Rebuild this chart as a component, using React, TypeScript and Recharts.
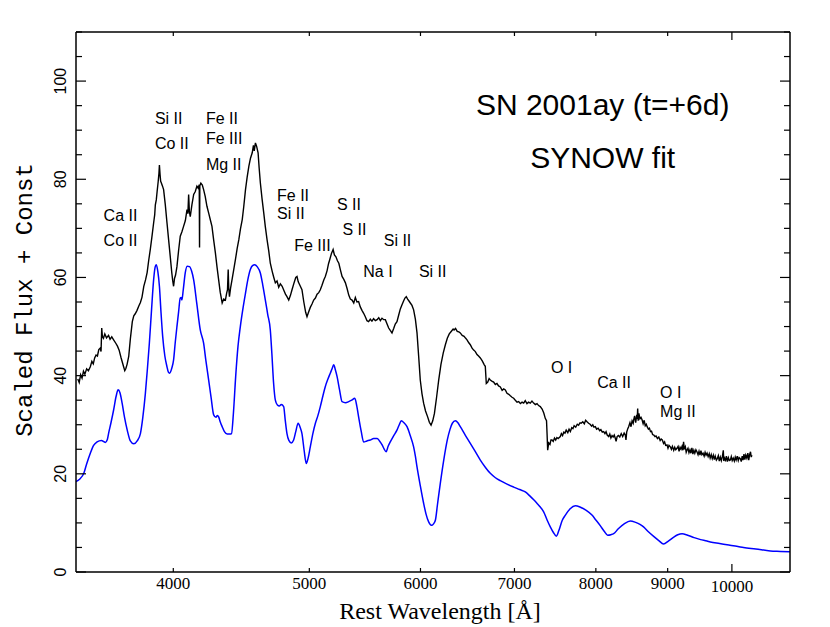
import React from "react";
import { LineChart, Line, XAxis, YAxis, ReferenceDot } from "recharts";

// wavelength ticks (log axis) and flux ticks
const xTicks = [4000, 5000, 6000, 7000, 8000, 9000, 10000];
const yTicks = [0, 5, 10, 15, 20, 25, 30, 35, 40, 45, 50, 55, 60, 65, 70, 75, 80, 85, 90, 95, 100, 105, 110];
const yTickLabels = [0, 20, 40, 60, 80, 100];

// observed spectrum [wavelength, scaled flux]
const observed: [number, number][] = [
  [3420, 39.3], [3428, 38.6], [3436, 40.2], [3444, 39.5], [3452, 40.9], [3460, 40.3], [3470, 41.4], [3480, 41.0],
  [3491, 41.8], [3500, 42.9], [3508, 42.4], [3516, 43.6], [3524, 44.2], [3532, 44.0], [3540, 45.3], [3548, 45.6],
  [3553, 44.9], [3557, 49.7], [3561, 47.9], [3567, 47.6], [3575, 48.5], [3585, 47.7], [3597, 48.2], [3606, 47.4],
  [3616, 47.9], [3627, 47.3], [3640, 46.6], [3650, 46.0], [3660, 45.2], [3672, 43.6], [3687, 41.8], [3694, 41.0],
  [3700, 41.4], [3708, 42.3], [3718, 43.9], [3728, 47.5], [3740, 51.0], [3749, 52.2], [3758, 52.6], [3769, 53.3],
  [3780, 54.2], [3790, 54.9], [3800, 56.0], [3811, 58.2], [3822, 59.5], [3832, 61.0], [3842, 63.5], [3852, 65.7],
  [3862, 68.2], [3873, 71.1], [3880, 72.8], [3884, 74.8], [3890, 75.8], [3895, 77.4], [3902, 79.5], [3907, 81.2],
  [3910, 82.9], [3914, 81.0], [3918, 79.6], [3922, 79.3], [3930, 78.6], [3937, 77.9], [3948, 74.8], [3959, 71.1],
  [3970, 67.5], [3980, 64.3], [3990, 61.0], [3996, 59.4], [4002, 58.2], [4008, 59.8], [4015, 60.5], [4024, 62.2],
  [4035, 65.5], [4046, 68.4], [4057, 69.3], [4068, 70.4], [4080, 71.6], [4091, 73.8], [4097, 73.0], [4102, 76.9],
  [4107, 73.4], [4113, 72.4], [4124, 74.8], [4136, 76.9], [4147, 77.5], [4158, 78.6], [4166, 78.2], [4174, 78.9],
  [4176, 66.1], [4178, 78.7], [4185, 79.2], [4195, 78.8], [4204, 77.9], [4215, 76.5], [4227, 74.5], [4240, 73.0],
  [4250, 71.8], [4262, 70.4], [4274, 67.6], [4286, 65.0], [4298, 62.0], [4309, 59.5], [4320, 57.0], [4334, 54.8],
  [4345, 55.6], [4357, 55.4], [4366, 56.8], [4372, 57.5], [4377, 61.6], [4381, 57.8], [4386, 56.1], [4395, 58.0],
  [4405, 59.6], [4417, 61.6], [4430, 63.8], [4442, 65.9], [4454, 67.7], [4466, 69.9], [4479, 71.8], [4490, 74.4],
  [4503, 77.9], [4515, 80.4], [4528, 82.7], [4540, 84.3], [4553, 85.4], [4562, 86.9], [4568, 85.8], [4577, 87.4],
  [4586, 86.7], [4597, 85.4], [4605, 82.3], [4614, 79.3], [4627, 76.0], [4640, 73.1], [4652, 70.3], [4665, 67.7],
  [4678, 65.4], [4690, 62.9], [4705, 61.2], [4717, 60.0], [4729, 58.9], [4742, 59.3], [4755, 58.0], [4768, 58.7],
  [4782, 58.2], [4795, 57.4], [4808, 56.6], [4820, 56.1], [4834, 55.4], [4847, 56.3], [4860, 57.5], [4875, 58.8],
  [4890, 60.0], [4900, 60.2], [4910, 59.1], [4925, 58.3], [4940, 57.5], [4955, 55.0], [4970, 52.9], [4981, 52.0],
  [4992, 52.8], [5008, 53.9], [5022, 54.6], [5036, 55.4], [5050, 55.8], [5064, 56.6], [5078, 56.9], [5091, 57.5],
  [5105, 58.4], [5120, 59.5], [5133, 60.2], [5148, 61.4], [5160, 62.8], [5170, 63.6], [5185, 64.9], [5199, 65.7],
  [5210, 64.6], [5223, 64.2], [5236, 63.4], [5248, 62.9], [5262, 61.5], [5276, 60.2], [5291, 59.6], [5305, 58.9],
  [5320, 57.7], [5334, 56.4], [5348, 55.6], [5363, 55.4], [5378, 54.8], [5392, 55.9], [5406, 55.0], [5421, 55.1],
  [5436, 54.0], [5451, 53.3], [5466, 52.7], [5481, 52.0], [5496, 51.2], [5511, 51.0], [5526, 51.5], [5541, 51.1],
  [5556, 51.6], [5572, 51.2], [5588, 51.4], [5603, 51.8], [5618, 51.2], [5633, 51.7], [5649, 51.4], [5664, 51.4],
  [5680, 50.5], [5695, 49.7], [5710, 49.2], [5726, 48.7], [5742, 49.6], [5757, 50.5], [5773, 51.0], [5789, 52.3],
  [5805, 53.6], [5820, 54.4], [5836, 55.2], [5849, 55.8], [5862, 56.1], [5875, 55.6], [5888, 55.2], [5901, 54.8],
  [5917, 54.3], [5933, 53.4], [5950, 51.5], [5966, 48.7], [5982, 44.0], [5998, 39.1], [6015, 36.3], [6031, 34.4],
  [6050, 32.8], [6071, 31.6], [6088, 30.5], [6105, 29.9], [6122, 30.8], [6139, 32.3], [6160, 35.5], [6182, 39.1],
  [6205, 42.3], [6228, 44.6], [6250, 46.3], [6270, 47.6], [6290, 48.5], [6310, 49.0], [6330, 49.5], [6340, 49.3],
  [6355, 49.6], [6373, 49.0], [6390, 48.9], [6405, 48.7], [6425, 48.2], [6445, 48.0], [6462, 47.6], [6476, 47.3],
  [6495, 46.7], [6511, 46.3], [6530, 45.6], [6547, 45.2], [6565, 44.9], [6583, 44.3], [6600, 44.0], [6619, 43.6],
  [6640, 43.0], [6662, 42.2], [6673, 41.9], [6684, 38.4], [6700, 38.7], [6715, 39.4], [6728, 39.1], [6745, 38.9],
  [6765, 38.7], [6784, 38.2], [6802, 38.4], [6820, 37.9], [6840, 37.7], [6860, 37.0], [6878, 37.3], [6896, 37.1],
  [6915, 36.4], [6935, 36.2], [6953, 35.9], [6972, 35.6], [6991, 35.4], [7010, 35.0], [7030, 34.6], [7049, 34.7],
  [7068, 34.3], [7088, 34.6], [7107, 34.4], [7125, 34.9], [7145, 34.3], [7164, 34.6], [7184, 34.4], [7204, 34.8],
  [7224, 34.4], [7244, 34.1], [7264, 34.3], [7283, 33.9], [7303, 33.7], [7325, 33.2], [7345, 32.4], [7363, 31.3],
  [7378, 30.8], [7385, 28.0], [7392, 24.8], [7405, 26.3], [7420, 26.0], [7432, 26.9], [7445, 26.9], [7460, 26.6],
  [7475, 27.3], [7490, 26.9], [7505, 27.4], [7520, 27.2], [7547, 27.6], [7560, 28.2], [7575, 27.8], [7590, 28.5],
  [7605, 28.3], [7620, 28.9], [7640, 28.4], [7656, 29.1], [7672, 28.6], [7690, 29.4], [7705, 29.2], [7720, 29.8],
  [7740, 29.5], [7760, 30.1], [7777, 29.9], [7795, 30.4], [7810, 30.3], [7830, 30.6], [7850, 30.2], [7867, 30.9],
  [7885, 30.6], [7905, 30.3], [7925, 30.1], [7945, 29.7], [7960, 30.0], [7975, 29.5], [7993, 29.6], [8010, 29.1],
  [8030, 29.3], [8050, 28.8], [8066, 29.0], [8085, 28.5], [8103, 28.6], [8120, 28.2], [8135, 28.6], [8150, 27.9],
  [8170, 27.6], [8185, 28.1], [8200, 27.3], [8215, 27.8], [8230, 27.5], [8245, 27.9], [8260, 27.2], [8270, 26.6],
  [8284, 27.6], [8300, 27.8], [8320, 27.5], [8340, 28.2], [8360, 27.6], [8380, 28.3], [8396, 27.9], [8405, 26.9],
  [8415, 28.5], [8430, 29.2], [8442, 29.6], [8460, 30.4], [8475, 29.6], [8490, 30.8], [8505, 30.3], [8512, 31.0],
  [8525, 31.8], [8540, 30.4], [8555, 32.0], [8562, 31.2], [8568, 33.3], [8575, 30.8], [8585, 32.3], [8600, 31.2],
  [8615, 31.5], [8630, 31.0], [8645, 30.2], [8660, 30.9], [8675, 29.8], [8690, 30.1], [8702, 29.6], [8720, 29.1],
  [8735, 29.3], [8750, 28.6], [8765, 28.7], [8780, 28.0], [8798, 27.9], [8815, 27.6], [8830, 27.7], [8850, 27.2],
  [8870, 27.5], [8890, 26.8], [8905, 27.1], [8921, 26.9], [8940, 26.2], [8955, 26.5], [8970, 25.8], [8990, 25.9],
  [9005, 25.2], [9020, 25.8], [9039, 25.5], [9055, 25.0], [9070, 25.6], [9090, 24.8], [9105, 25.4], [9120, 24.9],
  [9138, 25.2], [9155, 25.6], [9170, 24.6], [9185, 25.4], [9200, 25.0], [9215, 25.6], [9228, 24.8], [9238, 26.5],
  [9250, 25.0], [9265, 25.5], [9278, 24.4], [9289, 24.8], [9305, 25.2], [9320, 24.3], [9335, 24.9], [9350, 24.2],
  [9365, 25.3], [9380, 24.0], [9395, 24.8], [9410, 24.2], [9427, 24.9], [9443, 24.5], [9460, 23.9], [9475, 24.6],
  [9490, 23.8], [9505, 24.7], [9520, 23.9], [9538, 24.2], [9555, 23.6], [9570, 24.4], [9585, 23.8], [9601, 24.2],
  [9618, 23.5], [9635, 24.1], [9650, 23.2], [9667, 23.9], [9683, 23.1], [9700, 23.8], [9715, 22.9], [9730, 23.6],
  [9748, 22.8], [9763, 23.1], [9780, 23.7], [9795, 22.6], [9812, 23.4], [9828, 22.7], [9845, 23.5], [9860, 24.8],
  [9868, 22.6], [9880, 23.2], [9895, 22.8], [9910, 23.6], [9925, 22.5], [9942, 23.3], [9958, 22.7], [9974, 22.8],
  [9990, 23.5], [10005, 22.7], [10022, 23.2], [10040, 22.6], [10055, 23.4], [10070, 22.8], [10088, 23.6], [10105, 22.7],
  [10120, 23.3], [10138, 23.1], [10155, 22.5], [10170, 23.6], [10185, 22.8], [10200, 24.0], [10215, 22.9], [10230, 23.8],
  [10248, 23.2], [10265, 24.2], [10280, 22.8], [10295, 23.9], [10310, 24.5], [10322, 23.4], [10334, 23.8],
];

// SYNOW model spectrum [wavelength, scaled flux]
const model: [number, number][] = [
  [3410, 18.4], [3430, 18.9], [3454, 20.1], [3470, 22.0], [3491, 24.2], [3510, 25.8], [3530, 26.5], [3555, 26.8],
  [3578, 26.4], [3590, 27.0], [3597, 28.2], [3612, 30.5], [3627, 33.0], [3642, 35.8], [3654, 37.1], [3665, 36.5],
  [3678, 34.4], [3692, 31.6], [3709, 28.9], [3728, 26.7], [3749, 26.1], [3770, 26.7], [3790, 28.2], [3805, 31.5],
  [3821, 36.4], [3834, 41.5], [3846, 46.6], [3860, 53.5], [3873, 59.5], [3882, 62.0], [3890, 62.6], [3900, 61.2],
  [3910, 58.2], [3920, 53.0], [3931, 48.0], [3945, 44.0], [3959, 41.8], [3968, 40.7], [3976, 40.5], [3990, 41.5],
  [4002, 43.2], [4013, 46.8], [4024, 50.0], [4035, 53.0], [4046, 55.8], [4052, 55.9], [4057, 55.4], [4066, 57.5],
  [4079, 60.9], [4092, 62.3], [4108, 62.2], [4122, 61.3], [4136, 59.5], [4158, 54.5], [4181, 49.3], [4204, 46.6],
  [4220, 43.0], [4239, 39.1], [4256, 35.5], [4274, 32.0], [4290, 31.5], [4300, 31.9], [4309, 31.6], [4320, 30.6],
  [4334, 29.6], [4350, 28.6], [4370, 28.1], [4390, 28.1], [4401, 28.2], [4415, 32.5], [4431, 39.8], [4448, 46.0],
  [4465, 50.0], [4485, 53.8], [4503, 56.8], [4520, 59.5], [4539, 61.6], [4555, 62.4], [4572, 62.6], [4590, 62.2],
  [4614, 60.9], [4632, 58.5], [4652, 55.4], [4670, 52.5], [4690, 49.3], [4702, 44.5], [4715, 38.6], [4729, 35.0],
  [4745, 34.0], [4760, 33.8], [4775, 34.1], [4794, 33.7], [4806, 31.0], [4820, 28.2], [4835, 26.8], [4854, 26.3],
  [4873, 26.9], [4890, 28.6], [4909, 30.3], [4925, 29.5], [4940, 28.2], [4958, 24.7], [4975, 22.1], [4990, 23.2],
  [5008, 25.5], [5030, 28.3], [5050, 30.3], [5070, 31.8], [5091, 33.7], [5112, 35.8], [5133, 37.8], [5155, 39.3],
  [5175, 40.5], [5190, 41.4], [5204, 42.2], [5218, 41.2], [5233, 39.8], [5255, 37.0], [5276, 34.7], [5305, 34.5],
  [5334, 34.7], [5360, 35.0], [5387, 35.4], [5405, 33.8], [5421, 31.6], [5443, 28.8], [5466, 26.5], [5495, 26.7],
  [5526, 26.9], [5557, 27.2], [5588, 27.2], [5610, 26.7], [5634, 25.9], [5652, 25.1], [5671, 24.5], [5690, 25.6],
  [5710, 26.5], [5740, 27.7], [5773, 28.9], [5795, 30.0], [5814, 30.8], [5840, 30.4], [5869, 29.6], [5900, 27.8],
  [5933, 25.5], [5950, 23.6], [5966, 21.4], [5998, 17.6], [6031, 14.0], [6055, 11.8], [6081, 10.2], [6100, 9.6],
  [6115, 9.5], [6130, 9.8], [6149, 10.6], [6170, 13.8], [6198, 18.0], [6235, 23.0], [6270, 26.9], [6297, 29.0],
  [6322, 30.3], [6353, 30.8], [6380, 30.4], [6405, 29.6], [6460, 27.8], [6511, 26.2], [6565, 24.5], [6619, 22.8],
  [6675, 21.3], [6728, 20.1], [6785, 19.2], [6839, 18.6], [6915, 17.9], [6991, 17.3], [7060, 16.8], [7126, 16.3],
  [7184, 15.4], [7225, 14.7], [7263, 14.0], [7300, 13.3], [7342, 12.3], [7385, 10.6], [7424, 9.2], [7460, 8.1],
  [7498, 7.3], [7530, 8.5], [7570, 10.5], [7610, 11.6], [7670, 12.9], [7735, 13.5], [7800, 13.2], [7870, 12.6],
  [7949, 11.6], [8000, 10.6], [8060, 9.4], [8110, 8.3], [8156, 7.5], [8200, 7.6], [8237, 7.8], [8300, 8.8],
  [8380, 9.8], [8465, 10.4], [8540, 10.1], [8600, 9.7], [8651, 9.2], [8720, 8.2], [8800, 7.2], [8870, 6.4],
  [8940, 5.7], [9010, 6.3], [9080, 7.0], [9150, 7.6], [9216, 7.8], [9300, 7.5], [9400, 7.0], [9500, 6.6],
  [9600, 6.3], [9652, 6.1], [9800, 5.8], [9950, 5.5], [10100, 5.2], [10192, 5.0], [10400, 4.7], [10650, 4.3],
  [10830, 4.2], [11000, 4.1],
];

// line identifications
const ionNames = ["Ca II", "Co II", "Si II", "Co II", "Fe II", "Fe III", "Mg II", "Fe II", "Si II", "Fe III",
  "S II", "S II", "Si II", "Na I", "Si II", "O I", "Ca II", "O I", "Mg II"];
const ionWave = [3568, 3568, 3881, 3881, 4220, 4220, 4220, 4742, 4742, 4878,
  5232, 5279, 5649, 5463, 5985, 7432, 8018, 8889, 8889];
const ionFlux = [72.7, 67.5, 92.4, 87.3, 92.5, 88.3, 83.1, 76.8, 73.0, 66.5,
  74.9, 69.8, 67.6, 61.3, 61.3, 41.7, 38.6, 36.6, 32.7];

const titleLines = ["SN 2001ay (t=+6d)", "SYNOW fit"];
const titleWave = 8090;
const titleFlux = [95.3, 84.5];

const obsData = observed.map(([w, f]) => ({ w, f }));
const modelData = model.map(([w, f]) => ({ w, f }));

const BottomTick = (props: any) => {
  const { x, y, payload } = props;
  const big = payload.value === 10000;
  return (
    <g>
      <line x1={x} x2={x} y1={y} y2={y - (big ? 8 : 4)} stroke="#000" strokeWidth={1.2} />
      <text x={x} y={y + (big ? 20 : 17)} textAnchor="middle" fontFamily="Liberation Serif" fontSize={17} fill="#000">
        {payload.value}
      </text>
    </g>
  );
};

const TopTick = (props: any) => {
  const { x, y, payload } = props;
  const big = payload.value === 10000;
  return <line x1={x} x2={x} y1={y} y2={y + (big ? 8 : 4)} stroke="#000" strokeWidth={1.2} />;
};

const LeftTick = (props: any) => {
  const { x, y, payload } = props;
  const labelled = yTickLabels.includes(payload.value);
  return (
    <g>
      <line x1={x} x2={x + (labelled ? 10 : 6)} y1={y} y2={y} stroke="#000" strokeWidth={1.2} />
      {labelled && (
        <text x={x - 10} y={y} transform={`rotate(-90, ${x - 10}, ${y})`} textAnchor="middle"
          fontFamily="Liberation Sans" fontSize={16} fill="#000">
          {payload.value}
        </text>
      )}
    </g>
  );
};

const RightTick = (props: any) => {
  const { x, y, payload } = props;
  const labelled = yTickLabels.includes(payload.value);
  return <line x1={x} x2={x - (labelled ? 10 : 6)} y1={y} y2={y} stroke="#000" strokeWidth={1.2} />;
};

export default function App() {
  const axisLine = { stroke: "#000", strokeWidth: 1.5 };
  return (
    <div style={{ position: "absolute", left: 0, top: 0, background: "#fff" }}>
      <LineChart width={830} height={627} margin={{ top: 22, right: 30, bottom: 25, left: 36 }}>
        <XAxis dataKey="w" type="number" scale="log" domain={[3410, 11000]} allowDataOverflow
          ticks={xTicks} interval={0} tickSize={0} tickMargin={0} tickLine={false}
          axisLine={axisLine} height={30} tick={<BottomTick />} />
        <XAxis xAxisId="top" orientation="top" dataKey="w" type="number" scale="log" domain={[3410, 11000]}
          allowDataOverflow ticks={xTicks} interval={0} tickSize={0} tickMargin={0} tickLine={false}
          axisLine={axisLine} height={10} tick={<TopTick />} />
        <YAxis type="number" domain={[0, 110]} allowDataOverflow ticks={yTicks} interval={0}
          tickSize={0} tickMargin={0} tickLine={false} axisLine={axisLine} width={40} tick={<LeftTick />} />
        <YAxis yAxisId="right" orientation="right" type="number" domain={[0, 110]} allowDataOverflow
          ticks={yTicks} interval={0} tickSize={0} tickMargin={0} tickLine={false} axisLine={axisLine}
          width={10} tick={<RightTick />} />
        <Line data={modelData} dataKey="f" type="monotone" stroke="#0000ff" strokeWidth={1.5}
          dot={false} isAnimationActive={false} />
        <Line data={obsData} dataKey="f" type="linear" stroke="#000" strokeWidth={1.4}
          dot={false} isAnimationActive={false} />
        {ionNames.map((name, i) => (
          <ReferenceDot key={`ion-${i}`} x={ionWave[i]} y={ionFlux[i]} r={0} fill="none" stroke="none"
            ifOverflow="visible"
            label={{ value: name, position: "right", offset: 0, fill: "#000", fontSize: 16, fontFamily: "Liberation Sans" }} />
        ))}
        {titleLines.map((t, i) => (
          <ReferenceDot key={`title-${i}`} x={titleWave} y={titleFlux[i]} r={0} fill="none" stroke="none"
            ifOverflow="visible"
            label={{ value: t, position: "center", fill: "#000", fontSize: 30, fontFamily: "Liberation Sans" }} />
        ))}
        <text x={32} y={300} transform="rotate(-90, 32, 300)" textAnchor="middle"
          fontFamily="Liberation Mono" fontSize={24} fill="#000">
          Scaled Flux + Const
        </text>
        <text x={440} y={619} textAnchor="middle" fontFamily="Liberation Serif" fontSize={24} fill="#000">
          Rest Wavelength [Å]
        </text>
      </LineChart>
    </div>
  );
}
